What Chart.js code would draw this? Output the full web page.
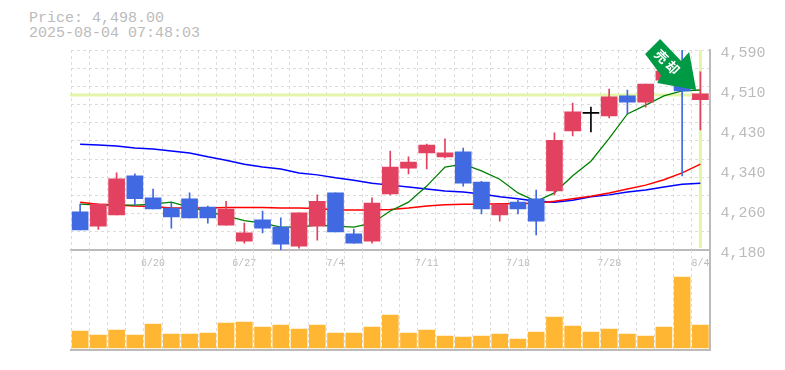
<!DOCTYPE html>
<html>
<head>
<meta charset="utf-8">
<style>
  html, body { margin: 0; padding: 0; background: #fff; overflow: hidden; }
  #wrap { position: relative; width: 785px; height: 370px; }
  canvas { position: absolute; left: 0; top: 0; }
  #info { position: absolute; left: 29px; top: 11px; font: 15px/15px "Liberation Mono", monospace; color: #bbb; white-space: pre; }
</style>
<script src="https://cdn.jsdelivr.net/npm/chart.js@4/dist/chart.umd.min.js"></script>
</head>
<body>
<div id="wrap">
  <div id="info">Price: 4,498.00
2025-08-04 07:48:03</div>
  <canvas id="priceChart" width="785" height="370"></canvas>
  <canvas id="volumeChart" width="785" height="370"></canvas>
</div>
<script>
// Даты торговых дней, подписи только каждая пятая
const dates = ['6/16','6/17','6/18','6/19','6/20','6/23','6/24','6/25','6/26','6/27','6/30','7/1','7/2','7/3','7/4','7/7','7/8','7/9','7/10','7/11','7/14','7/15','7/16','7/17','7/18','7/22','7/23','7/24','7/25','7/28','7/29','7/30','7/31','8/1','8/4'];
const shownDates = ['6/20','6/27','7/4','7/11','7/18','7/28','8/4'];

// Свечи
const opens =  [4258,4229,4252,4332,4287,4266,4285,4268,4231,4198,4242,4227,4188,4229,4297,4213,4198,4295,4348,4379,4371,4381,4319,4252,4278,4285,4301,4424,4462,4455,4496,4483,4528,4549,4488];
const closes = [4221,4274,4326,4285,4264,4248,4246,4246,4264,4215,4225,4192,4256,4280,4217,4194,4276,4350,4360,4395,4379,4317,4264,4274,4264,4239,4405,4463,4460,4494,4483,4520,4547,4506,4500];
const highs =  [4274,4274,4338,4336,4305,4276,4297,4270,4280,4235,4260,4246,4256,4293,4297,4223,4287,4383,4371,4397,4408,4389,4321,4274,4282,4303,4420,4481,4473,4510,4508,4520,4547,4590,4545];
const lows =   [4221,4222,4252,4272,4264,4225,4246,4235,4231,4194,4215,4180,4184,4200,4217,4194,4194,4293,4336,4346,4369,4311,4254,4239,4254,4211,4293,4414,4422,4451,4459,4473,4528,4332,4426];

// Скользящие средние
const maShort = [4274,4272,4272,4272,4274,4278,4268,4258,4250,4240,4235,4227,4227,4231,4229,4227,4235,4260,4278,4311,4350,4356,4342,4325,4297,4280,4297,4332,4362,4409,4459,4477,4496,4506,4508];
const maMid =   [4278,4274,4272,4270,4269,4266,4266,4266,4267,4267,4267,4266,4266,4265,4262,4262,4262,4263,4266,4270,4273,4274,4274,4275,4275,4276,4280,4285,4290,4297,4305,4313,4324,4338,4356];
const maLong =  [4397,4395,4393,4389,4387,4383,4379,4371,4364,4356,4350,4346,4338,4334,4328,4323,4317,4313,4309,4305,4301,4299,4295,4289,4285,4280,4278,4282,4289,4293,4299,4303,4309,4315,4317];

// Объём
const volumes = [17000,13000,18000,13000,24000,14000,14000,15000,25000,26000,21000,23000,19000,23000,15000,15000,21000,33000,15000,18000,12000,11000,12000,14000,9000,16000,31000,22000,16000,19000,14000,12000,21000,71000,23000];

// Шкала цены
const priceGrid = [4180,4217.3,4254.5,4291.8,4329.1,4366.4,4403.6,4440.9,4478.2,4515.5,4552.7,4590];
const priceTicks = [4180,4262,4344,4426,4508,4590];
const priceLabels = ['4,180','4,260','4,340','4,430','4,510','4,590'];
const lastPrice = 4498;
const signalIndex = 33;
const signalPrice = 4506;
const signalText = ['売', '却'];

const UP = '#e2415f';
const DOWN = '#4169e1';
const GRID = '#dcdcdc';
const AXIS = '#bbbbbb';
const FONT = '"Liberation Mono", monospace';
const DASH = [3, 3];

function candleColor(i) {
    if (dates[i] === '7/25') return '#000000';
    return closes[i] >= opens[i] ? UP : DOWN;
}
const colors = dates.map((d, i) => candleColor(i));

function fixWidth(w) {
    return scale => { scale.width = w; };
}

// Линии текущей цены и последнего дня
const highlightPlugin = {
    id: 'highlight',
    beforeDatasetsDraw(chart) {
        const { ctx, chartArea, scales } = chart;
        const py = scales.y.getPixelForValue(lastPrice);
        const px = scales.x.getPixelForValue(dates.length - 1);
        ctx.save();
        ctx.strokeStyle = '#e2f5a9';
        ctx.lineWidth = 3;
        ctx.beginPath();
        ctx.moveTo(chartArea.left - 1, py);
        ctx.lineTo(chartArea.right, py);
        ctx.moveTo(px, chartArea.top);
        ctx.lineTo(px, chartArea.bottom - 2);
        ctx.stroke();
        ctx.restore();
    }
};

// Зелёная стрелка сигнала
const arrowPlugin = {
    id: 'signalArrow',
    afterDatasetsDraw(chart) {
        const { ctx, scales } = chart;
        const ax = scales.x.getPixelForValue(signalIndex);
        const ay = scales.y.getPixelForValue(signalPrice);
        const shape = [[-22,-52],[-37,-37],[-21,-15.5],[-25,-8],[14,-1],[7,-39],[-1,-30]];
        ctx.save();
        ctx.translate(ax, ay);
        ctx.fillStyle = '#009944';
        ctx.beginPath();
        shape.forEach(([x, y], i) => i ? ctx.lineTo(x, y) : ctx.moveTo(x, y));
        ctx.closePath();
        ctx.fill();
        ctx.translate(-15, -29);
        ctx.rotate(Math.PI / 4);
        ctx.fillStyle = '#ffffff';
        ctx.font = 'bold 13px "Noto Sans CJK JP"';
        ctx.textAlign = 'center';
        ctx.textBaseline = 'middle';
        ctx.fillText(signalText[0], -8, 0);
        ctx.fillText(signalText[1], 8, 0);
        ctx.restore();
    }
};

new Chart(document.getElementById('priceChart'), {
    data: {
        labels: dates,
        datasets: [
            { type: 'bar', label: 'body', data: opens.map((o, i) => [o, closes[i]]), backgroundColor: colors, barThickness: 16, grouped: false, order: 1 },
            { type: 'bar', label: 'wick', data: lows.map((l, i) => [l, highs[i]]), backgroundColor: colors, barThickness: 1, grouped: false, order: 2 },
            { type: 'line', label: 'MA5', data: maShort, borderColor: '#008000', borderWidth: 1.3, pointRadius: 0, tension: 0, order: 3 },
            { type: 'line', label: 'MA25', data: maMid, borderColor: '#ff0000', borderWidth: 1.5, pointRadius: 0, tension: 0, order: 4 },
            { type: 'line', label: 'MA75', data: maLong, borderColor: '#0000ff', borderWidth: 1.5, pointRadius: 0, tension: 0, order: 5 }
        ]
    },
    plugins: [highlightPlugin, arrowPlugin],
    options: {
        responsive: false,
        animation: false,
        layout: { padding: { left: 71, top: 50, right: 0, bottom: 0 } },
        plugins: { legend: { display: false }, tooltip: { enabled: false } },
        scales: {
            x: {
                offset: true,
                grid: { color: GRID, drawTicks: false, offset: true },
                border: { color: AXIS, width: 2, dash: DASH },
                ticks: {
                    autoSkip: false, maxRotation: 0, padding: 7,
                    color: AXIS,
                    font: { family: FONT, size: 10 },
                    callback(value) {
                        const d = dates[value];
                        return shownDates.includes(d) ? d : '';
                    }
                },
                afterFit(scale) { scale.height = 120; }
            },
            y: {
                position: 'right',
                min: 4180,
                max: 4590,
                grid: { color: GRID, drawTicks: false },
                border: { color: AXIS, width: 2, dash: DASH },
                ticks: { display: false },
                afterBuildTicks(axis) { axis.ticks = priceGrid.map(v => ({ value: v })); },
                afterFit: fixWidth(0)
            },
            yLabels: {
                position: 'right',
                min: 4180,
                max: 4590,
                grid: { display: false, drawTicks: false },
                border: { display: false },
                ticks: {
                    padding: 11, labelOffset: 3, color: AXIS,
                    font: { family: FONT, size: 15 },
                    callback(value) { return priceLabels[priceTicks.indexOf(value)]; }
                },
                afterBuildTicks(axis) { axis.ticks = priceTicks.map(v => ({ value: v })); },
                afterFit: fixWidth(75.5)
            }
        }
    }
});

new Chart(document.getElementById('volumeChart'), {
    data: {
        labels: dates,
        datasets: [
            { type: 'bar', label: 'volume', data: volumes, backgroundColor: '#ffb733', barThickness: 16 }
        ]
    },
    options: {
        responsive: false,
        animation: false,
        layout: { padding: { left: 71, top: 250, right: 0, bottom: 20 } },
        plugins: { legend: { display: false }, tooltip: { enabled: false } },
        scales: {
            x: {
                offset: true,
                grid: { color: GRID, drawTicks: false, offset: true },
                border: { color: AXIS, width: 2, dash: DASH },
                ticks: { display: false },
                afterFit(scale) { scale.height = 0; }
            },
            y: {
                position: 'right',
                min: -2000,
                max: 98000,
                grid: { display: false },
                border: { color: AXIS, width: 2 },
                ticks: { display: false },
                afterFit: fixWidth(75.5)
            }
        }
    }
});
</script>
</body>
</html>
